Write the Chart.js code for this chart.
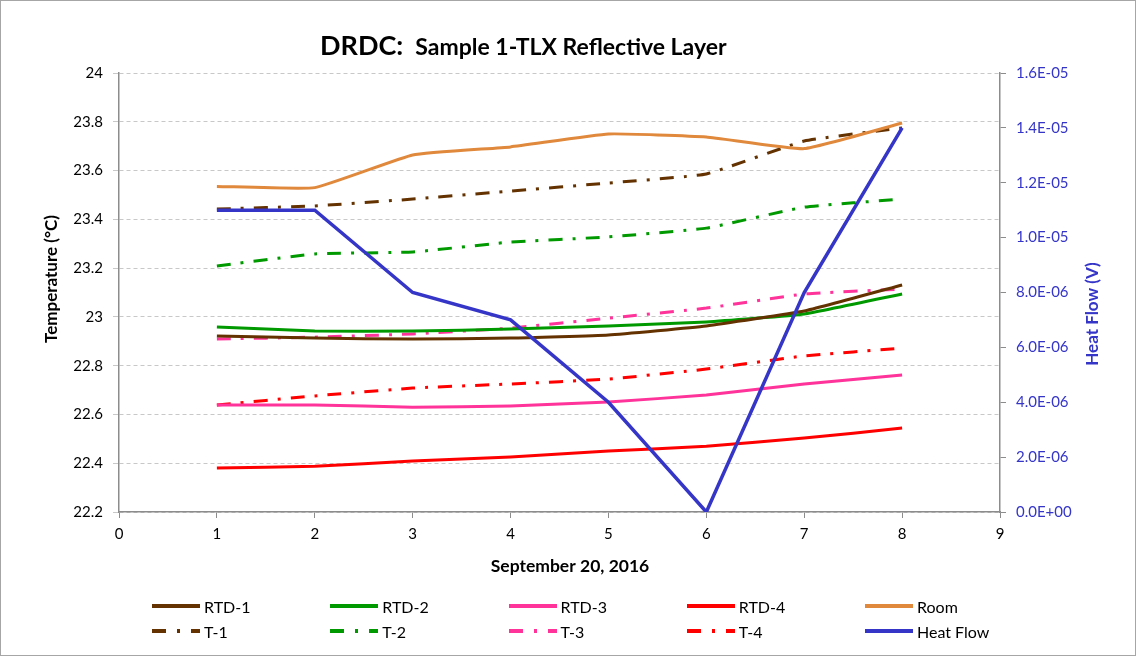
<!DOCTYPE html>
<html>
<head>
<meta charset="utf-8">
<script src="https://cdn.jsdelivr.net/npm/chart.js@4"></script>
<style>
  body { margin: 0; background: #fff; }
  #wrap { position: relative; width: 1136px; height: 656px; font-family: Lato, sans-serif; }
  #chart { position: absolute; left: 0; top: 0; }
  #frame { position: absolute; left: 0; top: 0; width: 1134px; height: 654px; border: 1px solid #a6a6a6; pointer-events: none; }
  #title { position: absolute; left: 320px; top: 28px; font-weight: bold; white-space: nowrap; color: #000; }
  #title .big { font-size: 27px; }
  #title .small { font-size: 23px; margin-left: 12px; }
  #legend { position: absolute; left: 152px; top: 597px; display: grid; grid-template-columns: repeat(5, 178.25px); row-gap: 7px; font-size: 16px; }
  .item { display: flex; align-items: center; height: 18px; }
  .item svg { margin-right: 4px; }
</style>
</head>
<body>
<div id="wrap">
  <canvas id="chart" width="1136" height="656"></canvas>
  <div id="title"><span class="big">DRDC:</span><span class="small">Sample 1-TLX Reflective Layer</span></div>
  <div id="legend"></div>
  <div id="frame"></div>
</div>
<script>
// Readings, one per hour index on September 20, 2016
const xs = [1, 2, 3, 4, 5, 6, 7, 8];
const rtd1 = [22.922, 22.913, 22.909, 22.913, 22.926, 22.963, 23.024, 23.131];
const rtd2 = [22.959, 22.942, 22.942, 22.950, 22.963, 22.979, 23.012, 23.094];
const rtd3 = [22.639, 22.639, 22.630, 22.635, 22.651, 22.680, 22.725, 22.762];
const rtd4 = [22.380, 22.388, 22.409, 22.426, 22.450, 22.470, 22.503, 22.544];
const room = [23.535, 23.530, 23.664, 23.697, 23.750, 23.738, 23.690, 23.795];
const t1 = [23.442, 23.455, 23.483, 23.516, 23.549, 23.586, 23.721, 23.775];
const t2 = [23.209, 23.258, 23.266, 23.307, 23.328, 23.364, 23.450, 23.483];
const t3 = [22.909, 22.917, 22.930, 22.954, 22.995, 23.036, 23.094, 23.114];
const t4 = [22.639, 22.676, 22.708, 22.725, 22.745, 22.786, 22.840, 22.872];
const heatFlow = [1.1e-5, 1.1e-5, 8e-6, 7e-6, 4e-6, 0, 8e-6, 1.4e-5];

const BROWN = '#643200', GREEN = '#009900', PINK = '#ff3399', RED = '#ff0000', ORANGE = '#e0883c', BLUE = '#3535c8';
const DASHDOT = [14, 10, 3, 10];

function pts(arr) {
    return xs.map((x, i) => ({ x: x, y: arr[i] }));
}

function solid(label, data, color) {
    return { label: label, data: pts(data), borderColor: color, backgroundColor: color, borderWidth: 3, tension: 0.12, yAxisID: 'y', dashed: false };
}

function dashed(label, data, color) {
    const ds = solid(label, data, color);
    ds.borderDash = DASHDOT;
    ds.dashed = true;
    return ds;
}

const datasets = [
    solid('RTD-1', rtd1, BROWN),
    solid('RTD-2', rtd2, GREEN),
    solid('RTD-3', rtd3, PINK),
    solid('RTD-4', rtd4, RED),
    solid('Room', room, ORANGE),
    dashed('T-1', t1, BROWN),
    dashed('T-2', t2, GREEN),
    dashed('T-3', t3, PINK),
    dashed('T-4', t4, RED),
    { label: 'Heat Flow', data: pts(heatFlow), borderColor: BLUE, backgroundColor: BLUE, borderWidth: 3.5, tension: 0, yAxisID: 'y2', dashed: false, order: -1 }
];

// Excel style scientific labels, e.g. 1.6E-05
function sci(v) {
    const parts = Math.abs(v) < 1e-12 ? ['0.0', '+0'] : v.toExponential(1).split('e');
    const sign = parts[1][0] === '-' ? '-' : '+';
    const exp = parts[1].replace(/[+-]/, '').padStart(2, '0');
    return parts[0] + 'E' + sign + exp;
}

// Axis titles drawn at the spots used by the original
const axisTitles = {
    id: 'axisTitles',
    afterDraw(chart) {
        const ctx = chart.ctx;
        ctx.save();
        ctx.font = 'bold 17px Lato';
        ctx.textAlign = 'center';
        ctx.textBaseline = 'middle';
        ctx.fillStyle = '#000';
        ctx.translate(52, 279);
        ctx.rotate(-Math.PI / 2);
        ctx.fillText('Temperature (°C)', 0, 0);
        ctx.restore();

        ctx.save();
        ctx.font = 'bold 17px Lato';
        ctx.textAlign = 'center';
        ctx.textBaseline = 'middle';
        ctx.fillStyle = BLUE;
        ctx.translate(1093, 314);
        ctx.rotate(-Math.PI / 2);
        ctx.fillText('Heat Flow (V)', 0, 0);
        ctx.restore();

        ctx.save();
        ctx.font = 'bold 17.5px Lato';
        ctx.textAlign = 'center';
        ctx.textBaseline = 'middle';
        ctx.fillStyle = '#000';
        ctx.fillText('September 20, 2016', 570, 566);
        ctx.restore();
    }
};

Chart.defaults.font.family = 'Lato';

const axisLine = { color: '#8c8c8c', width: 1.5 };

const chart = new Chart(document.getElementById('chart').getContext('2d'), {
    type: 'line',
    data: { datasets: datasets },
    options: {
        responsive: false,
        animation: false,
        layout: { padding: { top: 73, left: 0, right: 0, bottom: 0 } },
        elements: { point: { radius: 0 } },
        plugins: { legend: { display: false }, tooltip: { enabled: false } },
        scales: {
            x: {
                type: 'linear', min: 0, max: 9,
                ticks: { stepSize: 1, color: '#000', font: { size: 15 }, padding: 7 },
                grid: { drawOnChartArea: false, tickLength: 6, color: '#8c8c8c' },
                border: axisLine,
                afterFit(scale) { scale.height = 144; }
            },
            y: {
                position: 'left', min: 22.2, max: 24,
                ticks: { stepSize: 0.2, color: '#000', font: { size: 15 }, padding: 10, callback: v => String(+v.toFixed(1)) },
                grid: { color: '#c8c8c8', tickLength: 6, lineWidth: 1 },
                border: { color: '#8c8c8c', width: 1.5, dash: [4, 3] },
                afterFit(scale) { scale.width = 119; }
            },
            y2: {
                position: 'right', min: 0, max: 1.6e-5,
                ticks: { stepSize: 2e-6, color: BLUE, font: { size: 15 }, padding: 10, callback: v => sci(v) },
                grid: { drawOnChartArea: false, tickLength: 6, color: '#8c8c8c' },
                border: axisLine,
                afterFit(scale) { scale.width = 136; }
            }
        }
    },
    plugins: [axisTitles]
});

// HTML legend laid out in a 5 x 2 grid like the original
const legend = document.getElementById('legend');
chart.data.datasets.forEach(ds => {
    const item = document.createElement('div');
    item.className = 'item';
    const dash = ds.dashed ? ' stroke-dasharray="14,11,3,11"' : '';
    item.innerHTML = `<svg width="48" height="8"><line x1="0" y1="4" x2="48" y2="4" stroke="${ds.borderColor}" stroke-width="4"${dash}/></svg><span>${ds.label}</span>`;
    legend.appendChild(item);
});
</script>
</body>
</html>
